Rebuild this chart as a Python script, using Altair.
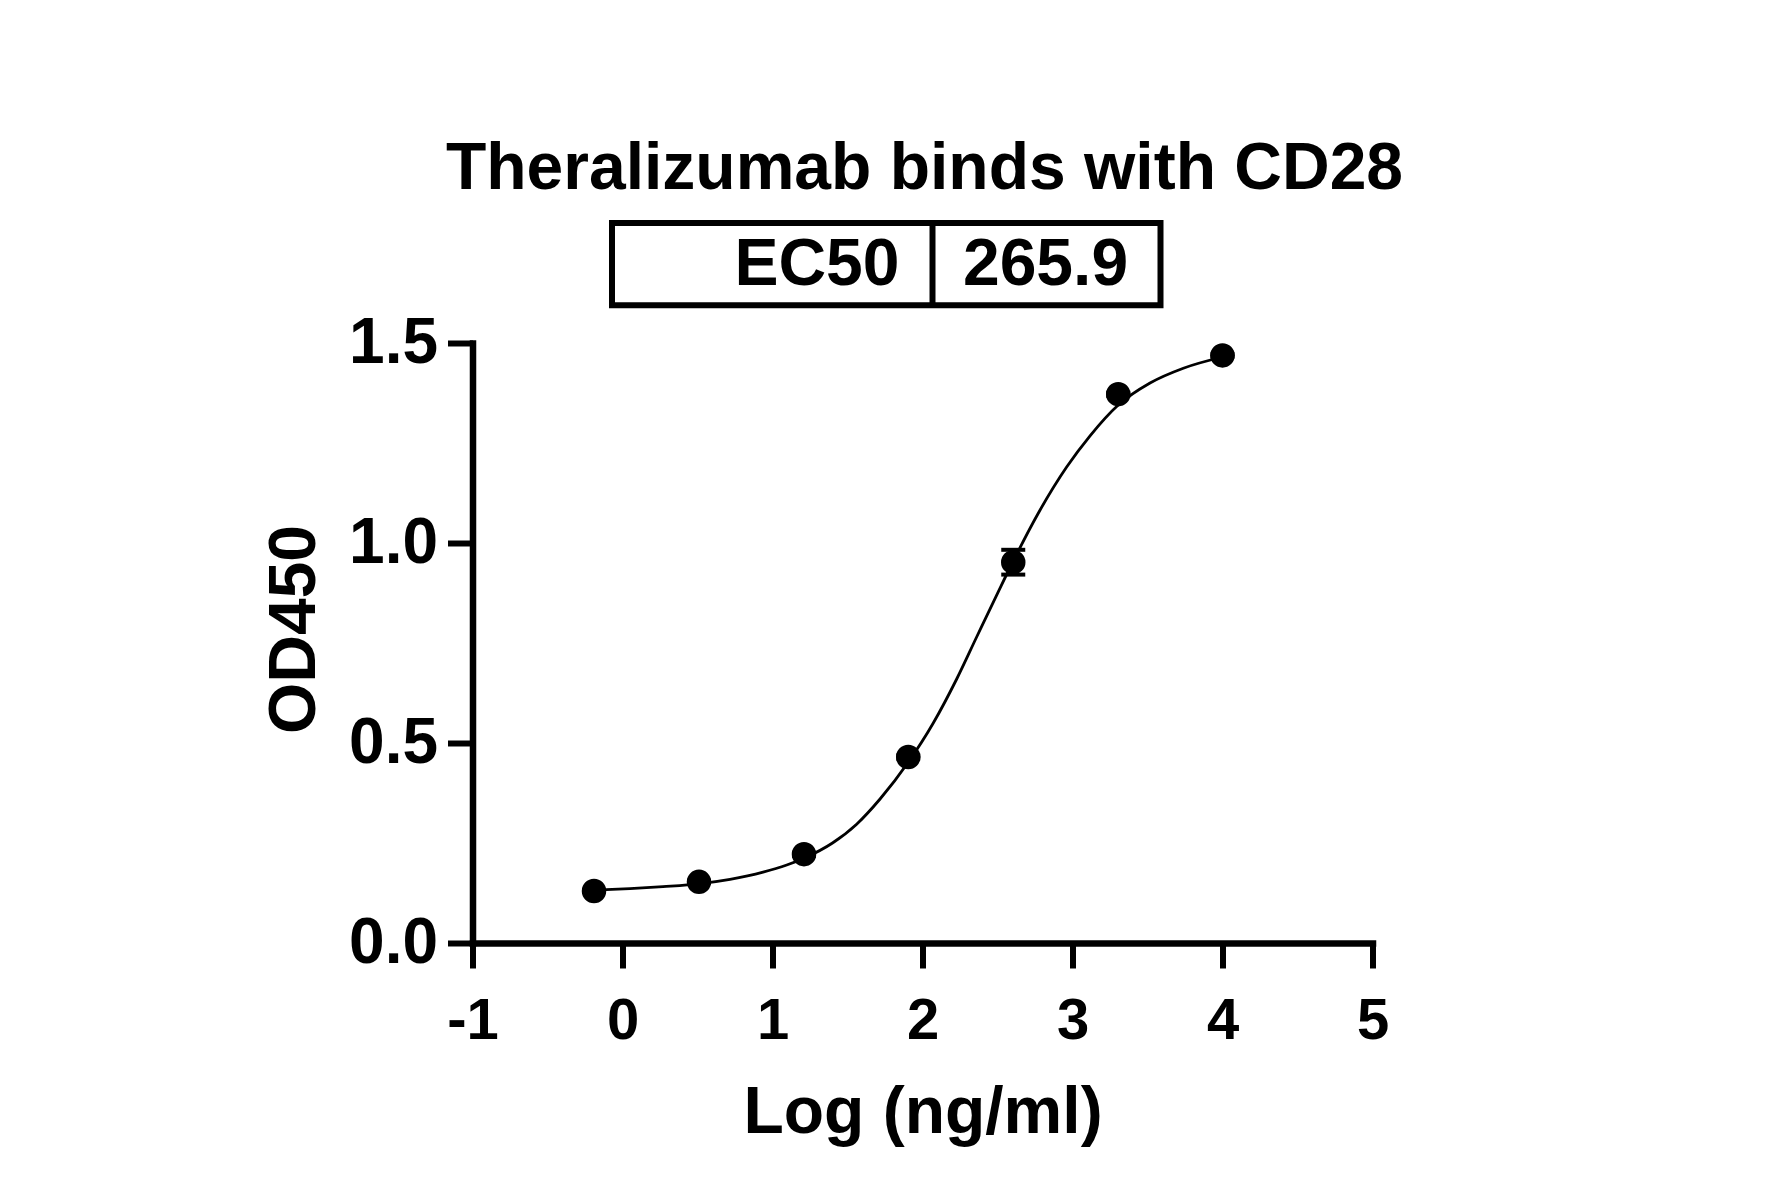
import altair as alt
import pandas as pd

# ---- data ----
log_conc = [-0.19, 0.51, 1.21, 1.905, 2.605, 3.305, 4.0]
od450 = [0.130, 0.153, 0.222, 0.465, 0.952, 1.372, 1.469]
od_err = [0.003, 0.003, 0.004, 0.004, 0.031, 0.004, 0.003]

curve_x = [-0.19, 0.05, 0.27, 0.51, 0.717, 0.937, 1.095, 1.21, 1.40, 1.561,
           1.717, 1.905, 2.072, 2.228, 2.361, 2.505, 2.605, 2.783, 2.961,
           3.117, 3.305, 3.517, 3.739, 4.0]
curve_y = [0.132, 0.136, 0.141, 0.148, 0.159, 0.177, 0.195, 0.212, 0.250, 0.297,
           0.360, 0.452, 0.550, 0.660, 0.765, 0.878, 0.955, 1.082, 1.190,
           1.268, 1.345, 1.400, 1.437, 1.465]

x_ticks = [-1, 0, 1, 2, 3, 4, 5]
y_ticks = [0.0, 0.5, 1.0, 1.5]

title_text = "Theralizumab binds with CD28"
table_label = "EC50"
table_value = "265.9"
x_title = "Log (ng/ml)"
y_title = "OD450"

FONT = "Liberation Sans"

points = pd.DataFrame({"logc": log_conc, "od": od450, "err": od_err})
curve = pd.DataFrame({"logc": curve_x, "od": curve_y})
ann = pd.DataFrame({"label": [table_label], "value": [table_value], "title": [title_text]})

xs = alt.Scale(domain=[-1, 5], nice=False, zero=False)
ys = alt.Scale(domain=[0, 1.5], nice=False, zero=False)

x_axis = alt.Axis(
    values=x_ticks, labelExpr="'' + datum.value", grid=False,
    labelFont=FONT, labelFontSize=58, labelFontWeight="bold", labelColor="black",
    labelPadding=24, tickSize=25, tickWidth=6, tickColor="black",
    domainWidth=6.5, domainColor="black", domainCap="square",
    title=x_title, titleFont=FONT, titleFontSize=66, titleFontWeight="bold",
    titleColor="black", titleX=450, titleY=189, titleBaseline="alphabetic",
    titleAlign="center", labelFlush=False, labelOverlap=False,
)
y_axis = alt.Axis(
    values=y_ticks, format=".1f", grid=False,
    labelFont=FONT, labelFontSize=64, labelFontWeight="bold", labelColor="black",
    labelPadding=10, tickSize=25, tickWidth=6, tickColor="black",
    domainWidth=6.5, domainColor="black", domainCap="square",
    title=y_title, titleFont=FONT, titleFontSize=66, titleFontWeight="bold",
    titleColor="black", titleX=-158, titleY=286, titleBaseline="alphabetic",
    titleAlign="center", titleAngle=270, labelFlush=False, labelOverlap=False,
)

line = alt.Chart(curve).mark_line(color="black", strokeWidth=2.8, interpolate="monotone").encode(
    x=alt.X("logc:Q", scale=xs, axis=x_axis),
    y=alt.Y("od:Q", scale=ys, axis=y_axis),
)

base_pts = alt.Chart(points).transform_calculate(
    lo="datum.od - datum.err", hi="datum.od + datum.err"
)
err_rule = base_pts.mark_rule(color="black", strokeWidth=3.5, opacity=1).encode(
    x=alt.X("logc:Q", scale=xs), y=alt.Y("lo:Q", scale=ys), y2="hi:Q"
)
cap_lo = base_pts.mark_tick(color="black", opacity=1, orient="horizontal", size=24, thickness=4).encode(
    x=alt.X("logc:Q", scale=xs), y=alt.Y("lo:Q", scale=ys)
)
cap_hi = base_pts.mark_tick(color="black", opacity=1, orient="horizontal", size=24, thickness=4).encode(
    x=alt.X("logc:Q", scale=xs), y=alt.Y("hi:Q", scale=ys)
)
dots = alt.Chart(points).mark_circle(color="black", opacity=1, size=600).encode(
    x=alt.X("logc:Q", scale=xs), y=alt.Y("od:Q", scale=ys)
)

# ---- title and EC50 table (annotation, positioned in pixels relative to plot) ----
title_mark = alt.Chart(ann).mark_text(
    font=FONT, fontSize=66, fontWeight="bold", color="black",
    align="center", baseline="alphabetic"
).encode(text="title:N", x=alt.value(452), y=alt.value(-154.5))

table_box = alt.Chart(ann).mark_rect(
    fillOpacity=0, stroke="black", strokeWidth=6
).encode(x=alt.value(139.5), x2=alt.value(688), y=alt.value(-120), y2=alt.value(-37.7))

table_div = alt.Chart(ann).mark_rule(color="black", strokeWidth=6).encode(
    x=alt.value(460), y=alt.value(-120), y2=alt.value(-37.7)
)
table_lab = alt.Chart(ann).mark_text(
    font=FONT, fontSize=66, fontWeight="bold", color="black",
    align="right", baseline="alphabetic"
).encode(text="label:N", x=alt.value(427), y=alt.value(-58))
table_val = alt.Chart(ann).mark_text(
    font=FONT, fontSize=66, fontWeight="bold", color="black",
    align="center", baseline="alphabetic"
).encode(text="value:N", x=alt.value(573), y=alt.value(-58))

chart = alt.layer(
    line, err_rule, cap_lo, cap_hi, dots,
    title_mark, table_box, table_div, table_lab, table_val
).properties(
    width=900, height=600,
    padding={"left": 464.5, "top": 335, "right": 390, "bottom": 235},
    autosize=alt.AutoSizeParams(type="none"),
    background="white",
).configure_view(stroke=None)

chart.save("out.html", embed_options={"renderer": "svg", "actions": False})
